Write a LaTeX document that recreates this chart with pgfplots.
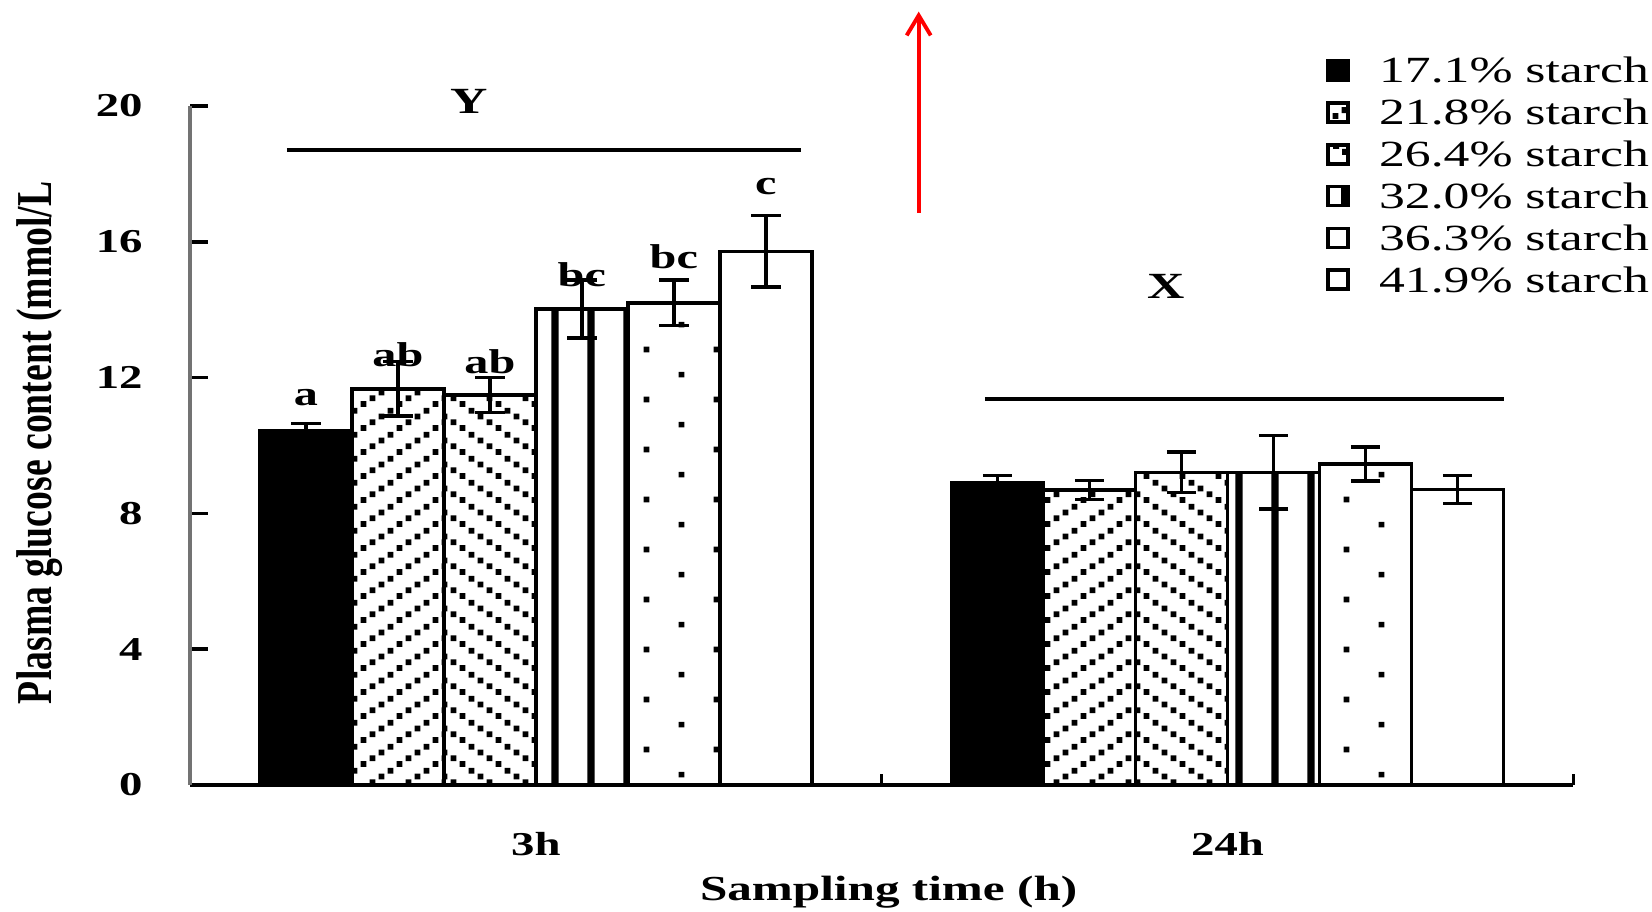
\documentclass[border=0pt]{standalone}
\usepackage{fontspec}
\setmainfont[FakeStretch=1.4]{Liberation Serif}
\newfontfamily\ylabfont[FakeStretch=0.75]{Liberation Serif}
\usepackage{pgfplots}
\pgfplotsset{compat=1.18}
\usetikzlibrary{patterns,arrows.meta}

% dotted diagonals, vertical bars, sparse dots
\pgfdeclarepatternformonly{dotsup}{\pgfpointorigin}{\pgfqpoint{10.24pt}{6.83pt}}{\pgfqpoint{10.24pt}{6.83pt}}{%
  \pgfpathrectangle{\pgfqpoint{0.43pt}{0.004pt}}{\pgfqpoint{1.7pt}{1.7pt}}%
  \pgfpathrectangle{\pgfqpoint{2.99pt}{1.714pt}}{\pgfqpoint{1.7pt}{1.7pt}}%
  \pgfpathrectangle{\pgfqpoint{5.55pt}{3.424pt}}{\pgfqpoint{1.7pt}{1.7pt}}%
  \pgfpathrectangle{\pgfqpoint{8.11pt}{5.13pt}}{\pgfqpoint{1.7pt}{1.7pt}}%
  \pgfusepath{fill}}
\pgfdeclarepatternformonly{dotsdown}{\pgfpointorigin}{\pgfqpoint{10.24pt}{6.83pt}}{\pgfqpoint{10.24pt}{6.83pt}}{%
  \pgfpathrectangle{\pgfqpoint{0.43pt}{5.126pt}}{\pgfqpoint{1.7pt}{1.7pt}}%
  \pgfpathrectangle{\pgfqpoint{2.99pt}{3.416pt}}{\pgfqpoint{1.7pt}{1.7pt}}%
  \pgfpathrectangle{\pgfqpoint{5.55pt}{1.706pt}}{\pgfqpoint{1.7pt}{1.7pt}}%
  \pgfpathrectangle{\pgfqpoint{8.11pt}{0.004pt}}{\pgfqpoint{1.7pt}{1.7pt}}%
  \pgfusepath{fill}}
\pgfdeclarepatternformonly{vbars}{\pgfpointorigin}{\pgfqpoint{10.2pt}{30pt}}{\pgfqpoint{10.2pt}{30pt}}{%
  \pgfpathrectangle{\pgfqpoint{4.1pt}{-1pt}}{\pgfqpoint{2.1pt}{32pt}}%
  \pgfusepath{fill}}
\pgfdeclarepatternformonly{sparsedots}{\pgfpointorigin}{\pgfqpoint{19.9pt}{14.2pt}}{\pgfqpoint{19.9pt}{14.2pt}}{%
  \pgfpathrectangle{\pgfqpoint{4.18pt}{2.75pt}}{\pgfqpoint{1.6pt}{1.6pt}}%
  \pgfpathrectangle{\pgfqpoint{14.13pt}{9.85pt}}{\pgfqpoint{1.6pt}{1.6pt}}%
  \pgfusepath{fill}}

\pgfplotsset{
  eb/.style={error bars/.cd, y dir=both, y explicit,
    error bar style={line width=1pt, black},
    error mark options={rotate=90, mark size=4.2pt, line width=1pt, black}},
}

\newcommand{\lab}{\bfseries\fontsize{9.8}{11}\selectfont}

\begin{document}
\begin{tikzpicture}
\path[use as bounding box] (-1.90cm,-1.26cm) rectangle (14.62cm,7.85cm);
\begin{axis}[
  at={(0,0)}, anchor=south west,
  width=13.834cm, height=6.79cm, scale only axis,
  xmin=-0.5, xmax=1.5, ymin=0, ymax=20,
  clip=false,
  axis x line=bottom, axis y line=left,
  axis line style={-},
  x axis line style={black, line width=1.2pt},
  y axis line style={black!55, line width=1.4pt},
  ybar, bar width=0.133,
  legend image code/.code={\draw[#1, line width=1pt] (0mm,-0.95mm) rectangle (2mm,0.95mm);},
  xtick={0,1}, xticklabels={3h,24h},
  minor xtick={0.5,1.5},
  ytick={0,4,...,20},
  tick align=inside,
  major tick length=1.8mm, minor tick length=1.1mm,
  tick style={black, line width=1pt},
  major x tick style={draw=none},
  /pgf/number format/assume math mode=true,
  ticklabel style={font=\bfseries\fontsize{9.5}{11}\selectfont},
  yticklabel style={xshift=-3.5mm},
  xticklabel style={yshift=-3.5mm},
  xlabel={Sampling time (h)},
  xlabel style={at={(axis description cs:0.505,-0.1576)}, anchor=center,
    font=\bfseries\fontsize{10}{12}\selectfont},
  ylabel={Plasma glucose content (mmol/L},
  ylabel style={at={(axis description cs:-0.1084,0.504)}, anchor=center,
    font=\ylabfont\bfseries\fontsize{14.3}{16}\selectfont},
  legend style={at={(axis description cs:0.8207,1.078)}, anchor=north west,
    draw=none, fill=none, inner sep=0pt, row sep=2.3pt, column sep=2.6mm,
    font=\fontsize{10.5}{12}\selectfont,
    nodes={inner sep=1pt, text height=7.3pt, text depth=0.3pt}},
  legend cell align=left,
]
\addplot[fill=black, draw=black, line width=1pt, bar shift=-0.3325, eb]
  coordinates {(0,10.43) +- (0,0.22) (1,8.89) +- (0,0.22)};
\addplot[pattern=dotsup, draw=black, line width=1pt, bar shift=-0.1995, eb]
  coordinates {(0,11.67) +- (0,0.80) (1,8.69) +- (0,0.28)};
\addplot[pattern=dotsdown, draw=black, line width=1pt, bar shift=-0.0665, eb]
  coordinates {(0,11.49) +- (0,0.52) (1,9.21) +- (0,0.60)};
\addplot[pattern=vbars, draw=black, line width=1pt, bar shift=0.0665, eb]
  coordinates {(0,14.02) +- (0,0.86) (1,9.21) +- (0,1.08)};
\addplot[pattern=sparsedots, draw=black, line width=1pt, bar shift=0.1995, eb]
  coordinates {(0,14.20) +- (0,0.67) (1,9.46) +- (0,0.50)};
\addplot[fill=white, draw=black, line width=1pt, bar shift=0.3325, eb]
  coordinates {(0,15.72) +- (0,1.05) (1,8.70) +- (0,0.41)};
\legend{17.1\% starch, 21.8\% starch, 26.4\% starch, 32.0\% starch, 36.3\% starch, 41.9\% starch}

% significance letters
\node[font=\lab] at (axis cs:-0.3325,11.41) {a};
\node[font=\lab] at (axis cs:-0.1995,12.67) {ab};
\node[font=\lab] at (axis cs:-0.0665,12.48) {ab};
\node[font=\lab] at (axis cs:0.0665,15.03) {bc};
\node[font=\lab] at (axis cs:0.1995,15.57) {bc};
\node[font=\lab] at (axis cs:0.3325,17.63) {c};

% group lines
\draw[line width=1pt] (axis cs:-0.36,18.7) -- (axis cs:0.383,18.7);
\node[font=\bfseries\fontsize{10.5}{12}\selectfont] at (axis cs:-0.097,20.13) {Y};
\draw[line width=1pt] (axis cs:0.649,11.37) -- (axis cs:1.400,11.37);
\node[font=\bfseries\fontsize{10.5}{12}\selectfont] at (axis cs:0.911,14.69) {X};

% red arrow
\draw[red, line width=1.1pt, -{Straight Barb[length=2mm, width=2.4mm]}]
  (axis cs:0.5535,16.86) -- (axis cs:0.5535,22.78);
\end{axis}
\end{tikzpicture}
\end{document}
